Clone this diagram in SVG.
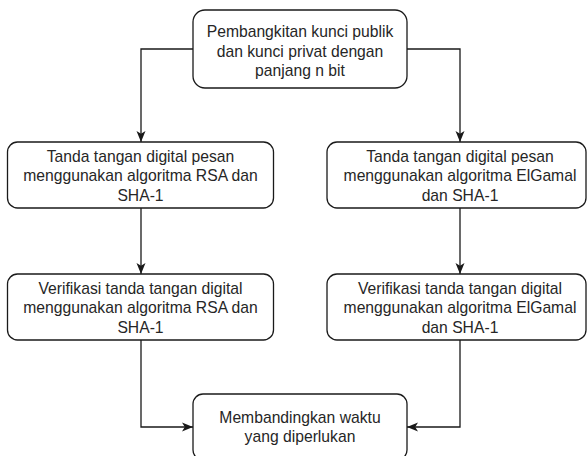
<svg xmlns="http://www.w3.org/2000/svg" width="587" height="456" viewBox="0 0 587 456">
  <defs>
    <marker id="arrow" viewBox="0 0 11 11" refX="11" refY="5.5" markerWidth="11" markerHeight="11" markerUnits="userSpaceOnUse" orient="auto">
      <path d="M0,1 L11,5.5 L0,10 L2.8,5.5 Z" fill="#1a1a1a"/>
    </marker>
    <style>
      .box { fill: #ffffff; stroke: #1a1a1a; stroke-width: 1.3; }
      .edge { fill: none; stroke: #1a1a1a; stroke-width: 1.3; marker-end: url(#arrow); }
      .label { font-family: "Liberation Sans", Arial, sans-serif; font-size: 15.7px; fill: #262626; text-anchor: middle; }
    </style>
  </defs>
  <rect width="587" height="456" fill="#ffffff"/>

  <!-- connectors -->
  <g id="connectors">
    <path class="edge" d="M193,49 H141 V142"/>
    <path class="edge" d="M407,49 H460 V142"/>
    <path class="edge" d="M141,208 V274"/>
    <path class="edge" d="M460,208 V274"/>
    <path class="edge" d="M141,340 V427 H193"/>
    <path class="edge" d="M460,340 V427 H407"/>
  </g>

  <!-- key generation -->
  <g id="node-keygen">
    <rect class="box" x="193" y="10" width="214" height="78" rx="12" ry="12"/>
    <text class="label" x="300" y="37">Pembangkitan kunci publik</text>
    <text class="label" x="300" y="57">dan kunci privat dengan</text>
    <text class="label" x="300" y="76">panjang n bit</text>
  </g>

  <!-- RSA signing -->
  <g id="node-rsa-sign">
    <rect class="box" x="7.5" y="142" width="266" height="66" rx="10" ry="10"/>
    <text class="label" x="140.5" y="161.5">Tanda tangan digital pesan</text>
    <text class="label" x="140.5" y="181">menggunakan algoritma RSA dan</text>
    <text class="label" x="140.5" y="200.5">SHA-1</text>
  </g>

  <!-- ElGamal signing -->
  <g id="node-elgamal-sign">
    <rect class="box" x="327" y="142" width="259" height="66" rx="10" ry="10"/>
    <text class="label" x="460" y="161.5">Tanda tangan digital pesan</text>
    <text class="label" x="460" y="181">menggunakan algoritma ElGamal</text>
    <text class="label" x="460" y="200.5">dan SHA-1</text>
  </g>

  <!-- RSA verification -->
  <g id="node-rsa-verify">
    <rect class="box" x="7.5" y="274" width="266" height="66" rx="10" ry="10"/>
    <text class="label" x="140.5" y="293.5">Verifikasi tanda tangan digital</text>
    <text class="label" x="140.5" y="313">menggunakan algoritma RSA dan</text>
    <text class="label" x="140.5" y="332.5">SHA-1</text>
  </g>

  <!-- ElGamal verification -->
  <g id="node-elgamal-verify">
    <rect class="box" x="327" y="274" width="259" height="66" rx="10" ry="10"/>
    <text class="label" x="460" y="293.5">Verifikasi tanda tangan digital</text>
    <text class="label" x="460" y="313">menggunakan algoritma ElGamal</text>
    <text class="label" x="460" y="332.5">dan SHA-1</text>
  </g>

  <!-- comparison -->
  <g id="node-compare">
    <rect class="box" x="193" y="394" width="214" height="66" rx="10" ry="10"/>
    <text class="label" x="300" y="422.5">Membandingkan waktu</text>
    <text class="label" x="300" y="441.5">yang diperlukan</text>
  </g>
</svg>
